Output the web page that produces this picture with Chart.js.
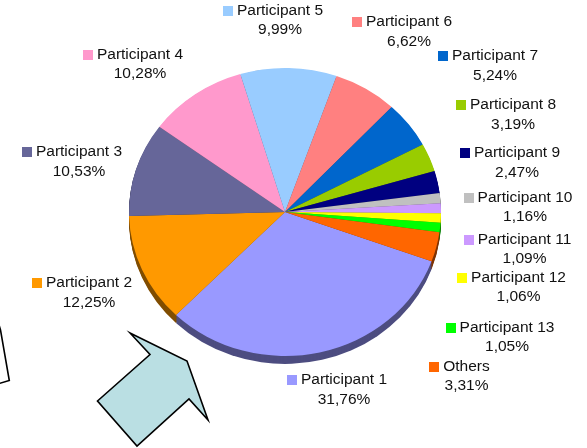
<!DOCTYPE html>
<html>
<head>
<meta charset="utf-8">
<script src="https://cdn.jsdelivr.net/npm/chart.js@4/dist/chart.umd.min.js"></script>
<style>
  html, body { margin: 0; padding: 0; background: #fff; }
  canvas { display: block; }
</style>
</head>
<body>
<canvas id="shareChart" width="587" height="448"></canvas>
<script>
// data
const participants = ['Participant 1', 'Participant 2', 'Participant 3', 'Participant 4', 'Participant 5',
    'Participant 6', 'Participant 7', 'Participant 8', 'Participant 9', 'Participant 10',
    'Participant 11', 'Participant 12', 'Participant 13', 'Others'];
const shares = [31.76, 12.25, 10.53, 10.28, 9.99, 6.62, 5.24, 3.19, 2.47, 1.16, 1.09, 1.06, 1.05, 3.31];
const sliceColors = ['#9999FF', '#FF9900', '#666699', '#FF99CC', '#99CCFF', '#FF8080', '#0066CC',
    '#99CC00', '#000080', '#C0C0C0', '#CC99FF', '#FFFF00', '#00FF00', '#FF6600'];

// where excel put each label (center of text, first line)
const labelSpots = [
    [344, 380], [89, 283], [79, 152], [140, 54.5], [280, 10.5], [409, 22], [495, 56],
    [513, 105], [517, 153], [525, 197.5], [524.5, 239.5], [518.5, 277.5], [507, 327.5], [466.5, 366.5]
];

const squash = 144 / 156; // tilted pie
const depth = 8;

function darker(hex, f) {
    const n = parseInt(hex.slice(1), 16);
    const r = Math.round(((n >> 16) & 255) * f);
    const g = Math.round(((n >> 8) & 255) * f);
    const b = Math.round((n & 255) * f);
    return `rgb(${r},${g},${b})`;
}

const tiltPlugin = {
    id: 'tilt',
    beforeDatasetsDraw(chart) {
        const ctx = chart.ctx;
        const arcs = chart.getDatasetMeta(0).data;
        const cx = arcs[0].x, cy = arcs[0].y;
        ctx.save();
        ctx.translate(cx, cy);
        ctx.scale(1, squash);
        ctx.translate(-cx, -cy);
        // side of the pie, drawn as stacked copies going down
        for (let d = depth; d > 0; d--) {
            arcs.forEach((arc, i) => {
                ctx.beginPath();
                ctx.moveTo(cx, cy + d / squash);
                ctx.arc(cx, cy + d / squash, arc.outerRadius, arc.startAngle, arc.endAngle);
                ctx.closePath();
                ctx.fillStyle = darker(sliceColors[i], 0.5);
                ctx.fill();
            });
        }
    },
    afterDatasetsDraw(chart) {
        chart.ctx.restore();
    }
};

const labelPlugin = {
    id: 'sliceLabels',
    afterDraw(chart) {
        const ctx = chart.ctx;
        const total = shares.reduce((s, v) => s + v, 0);
        ctx.save();
        ctx.font = '15.5px "Liberation Sans", Arial, sans-serif';
        ctx.fillStyle = '#111';
        ctx.textBaseline = 'middle';
        ctx.textAlign = 'center';
        participants.forEach((name, i) => {
            const [x, y] = labelSpots[i];
            const w = ctx.measureText(name).width;
            ctx.fillStyle = sliceColors[i];
            ctx.fillRect(Math.round(x - w / 2 - 14), Math.round(y - 5), 10, 10);
            ctx.fillStyle = '#111';
            ctx.fillText(name, x, y);
            const pct = (shares[i] / total * 100).toFixed(2).replace('.', ',') + '%';
            ctx.fillText(pct, x, y + 19.5);
        });
        ctx.restore();
    }
};

// arrow + box that sit on the slide
const shapesPlugin = {
    id: 'shapes',
    afterDraw(chart) {
        const ctx = chart.ctx;
        ctx.save();
        ctx.lineWidth = 1.6;
        ctx.strokeStyle = '#000';
        ctx.lineJoin = 'miter';
        ctx.beginPath();
        ctx.moveTo(130, 333);
        ctx.lineTo(187, 361);
        ctx.lineTo(208, 420);
        ctx.lineTo(189, 399);
        ctx.lineTo(137, 446);
        ctx.lineTo(97.5, 401);
        ctx.lineTo(150, 354.5);
        ctx.closePath();
        ctx.fillStyle = '#BADFE3';
        ctx.fill();
        ctx.stroke();

        ctx.beginPath();
        ctx.moveTo(-1, 325);
        ctx.lineTo(0.5, 330);
        ctx.lineTo(9.3, 380.5);
        ctx.lineTo(-1, 383.5);
        ctx.stroke();
        ctx.restore();
    }
};

const shareChartConfig = {
    type: 'pie',
    data: {
        labels: participants,
        datasets: [{
            data: shares,
            backgroundColor: sliceColors,
            borderWidth: 0,
            clip: false,
        }]
    },
    options: {
        responsive: false,
        animation: false,
        rotation: 110,
        layout: {
            padding: { left: 129, right: 146, top: 56, bottom: 80 }
        },
        plugins: {
            legend: { display: false },
            tooltip: { enabled: false },
            title: { display: false }
        }
    },
    plugins: [tiltPlugin, labelPlugin, shapesPlugin]
};

const ctx = document.getElementById('shareChart').getContext('2d');
new Chart(ctx, shareChartConfig);
</script>
</body>
</html>
